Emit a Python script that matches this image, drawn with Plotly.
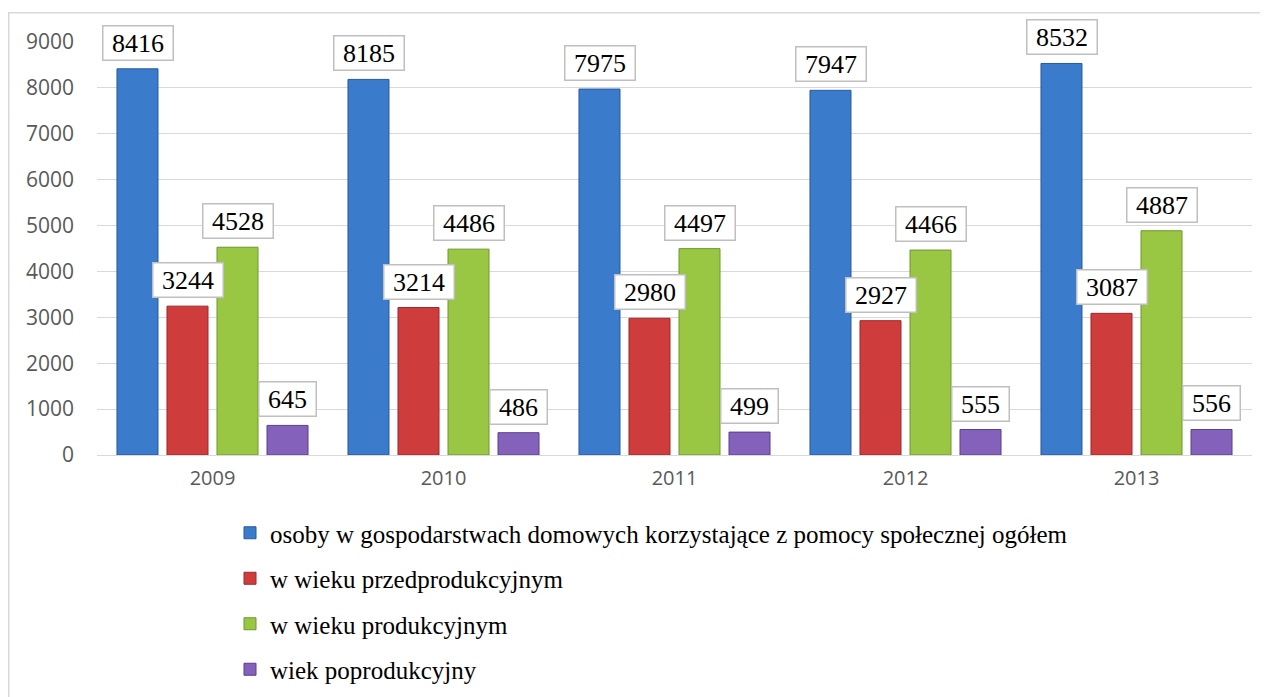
import plotly.graph_objects as go

years = ["2009", "2010", "2011", "2012", "2013"]
series_names = [
    "osoby w gospodarstwach domowych korzystające z pomocy społecznej ogółem",
    "w wieku przedprodukcyjnym",
    "w wieku produkcyjnym",
    "wiek poprodukcyjny",
]
ogolem = [8416, 8185, 7975, 7947, 8532]
przedprod = [3244, 3214, 2980, 2927, 3087]
prod = [4528, 4486, 4497, 4466, 4887]
poprod = [645, 486, 499, 555, 556]
y_ticks = [0, 1000, 2000, 3000, 4000, 5000, 6000, 7000, 8000, 9000]

all_values = [ogolem, przedprod, prod, poprod]
fill_colors = ["#3B7BCC", "#CF3C3C", "#9AC743", "#8462BC"]
line_colors = ["#285A9C", "#9C2A2A", "#6F962E", "#5A3F8A"]

SERIF = "Liberation Serif, Times New Roman, serif"
SANS = "Open Sans, Arial, sans-serif"

fig = go.Figure()
for i, (name, vals) in enumerate(zip(series_names, all_values)):
    fig.add_trace(go.Bar(
        x=years, y=vals, name=name, legendgroup=f"g{i}",
        marker=dict(color=fill_colors[i], line=dict(color=line_colors[i], width=1)),
    ))

annotations = []
offsets = [-75, -25, 25, 75]
for i, vals in enumerate(all_values):
    for j, v in enumerate(vals):
        annotations.append(dict(
            x=j, y=v, xref="x", yref="y", xshift=offsets[i], yshift=8,
            yanchor="bottom", xanchor="center", showarrow=False,
            text="\u00a0" + str(v) + "\u00a0",
            font=dict(family=SERIF, size=26, color="#000000"),
            bgcolor="#FFFFFF", bordercolor="#BFBFBF", borderwidth=1.5, borderpad=2,
        ))

# page body has an 8px margin, so figure coordinates = screen - 8
L, R, T, B = 89, 24, 34, 250
W, H = 1268, 697
pw, ph = W - L - R, H - T - B

fig.update_layout(
    width=W, height=H,
    margin=dict(l=L, r=R, t=T, b=B),
    paper_bgcolor="white", plot_bgcolor="white",
    barmode="group", bargap=0.134, bargroupgap=0.18,
    annotations=annotations,
    showlegend=True,
    legend=dict(
        orientation="v", x=(222 - L) / pw, xanchor="left",
        y=(T + ph - 502) / ph, yanchor="top",
        font=dict(family=SERIF, size=25, color="#000000"),
        tracegroupgap=10, traceorder="grouped",
        bgcolor="rgba(0,0,0,0)",
    ),
    xaxis=dict(
        type="category", range=[-0.5, 4.5], autorange=False,
        showgrid=False, showline=True, linecolor="#D9D9D9", linewidth=1,
        ticks="", tickfont=dict(family=SANS, size=20, color="#595959"),
        ticklabelstandoff=5,
    ),
    yaxis=dict(
        range=[0, 9000], autorange=False, tickvals=y_ticks, showgrid=True,
        gridcolor="#D9D9D9", gridwidth=1,
        zeroline=False, showline=False, ticks="",
        tickfont=dict(family=SANS, size=21, color="#595959"), ticklabelstandoff=22,
    ),
    shapes=[dict(
        type="rect", xref="paper", yref="paper",
        x0=(0.75 - L) / pw, x1=(1290 - L) / pw,
        y0=(T + ph - 720) / ph, y1=(T + ph - 4.75) / ph,
        line=dict(color="#D9D9D9", width=1.5), fillcolor="rgba(0,0,0,0)", layer="below",
    )],
)

fig.write_html("out.html")
